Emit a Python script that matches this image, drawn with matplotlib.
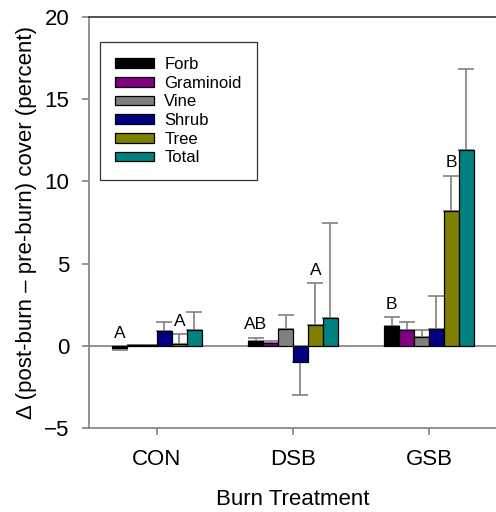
import numpy as np
import matplotlib.pyplot as plt

plt.rcParams['font.family'] = ['Liberation Sans', 'DejaVu Sans']

treatments = ['CON', 'DSB', 'GSB']
groups = ['Forb', 'Graminoid', 'Vine', 'Shrub', 'Tree', 'Total']
colors = ['#000000', '#800080', '#808080', '#000080', '#808000', '#008080']

# mean change per group, one list per treatment
con_vals = [-0.15, 0.03, 0.04, 0.92, 0.12, 0.98]
dsb_vals = [0.30, 0.15, 1.00, -1.00, 1.25, 1.72]
gsb_vals = [1.20, 0.95, 0.52, 1.00, 8.20, 11.90]

# standard errors (drawn one-sided, away from zero)
con_err = [0.10, 0.03, 0.03, 0.50, 0.60, 1.05]
dsb_err = [0.20, 0.15, 0.90, 2.00, 2.55, 5.75]
gsb_err = [0.55, 0.50, 0.46, 2.00, 2.15, 4.95]

# significance letters: (treatment index, group index, letter)
letters = [(0, 0, 'A'), (0, 4, 'A'), (1, 0, 'AB'), (1, 4, 'A'),
           (2, 0, 'B'), (2, 4, 'B')]

vals = np.array([con_vals, dsb_vals, gsb_vals])
errs = np.array([con_err, dsb_err, gsb_err])

fig = plt.figure(figsize=(4.96, 5.12), dpi=100)
ax = fig.add_axes([89 / 496, 84 / 512, 408 / 496, 411 / 512])

x = np.arange(1, len(treatments) + 1)
w = 0.11
for j, g in enumerate(groups):
    xs = x + (j - 2.5) * w
    v = vals[:, j]
    e = errs[:, j]
    ax.bar(xs, v, width=w, color=colors[j], edgecolor='black',
           linewidth=0.9, label=g, zorder=3)
    lower = np.where(v < 0, e, 0)
    upper = np.where(v >= 0, e, 0)
    eb = ax.errorbar(xs, v, yerr=[lower, upper], fmt='none', ecolor='#808080',
                     elinewidth=1.2, capsize=5.5, capthick=1.2, zorder=2)
    for cl in eb[1]:
        cl.set_color('#222222')

for ti, gi, lab in letters:
    v = vals[ti, gi]
    top = max(v + errs[ti, gi], 0)
    ax.text(x[ti] + (gi - 2.5) * w, top + 0.5, lab, ha='center',
            va='baseline', fontsize=12.5)

ax.axhline(0, color='#808080', linewidth=1.2, zorder=1)
ax.set_xlim(0.5, 3.5)
ax.set_ylim(-5, 20)
ax.set_yticks([-5, 0, 5, 10, 15, 20])
ax.set_yticklabels(['\u22125', '0', '5', '10', '15', '20'])
ax.set_xticks(x)
ax.set_xticklabels(treatments)
ax.tick_params(axis='both', labelsize=16, color='#808080', length=5, width=1.2)
ax.tick_params(axis='y', pad=9)
ax.tick_params(axis='x', pad=10)

for side in ['left', 'bottom', 'right']:
    ax.spines[side].set_color('#808080')
    ax.spines[side].set_linewidth(1.2)
ax.spines['top'].set_color('#333333')
ax.spines['top'].set_linewidth(1.2)

ax.set_xlabel('Burn Treatment', fontsize=16, labelpad=14)
ax.set_ylabel('\u0394 (post-burn \u2013 pre-burn) cover (percent)', fontsize=16,
              labelpad=5)

leg = ax.legend(loc='upper left', bbox_to_anchor=(0.027, 0.939),
                borderaxespad=0, fontsize=12, frameon=True, fancybox=False,
                edgecolor='black', handlelength=2.35, handleheight=0.5,
                handletextpad=0.6, labelspacing=0.22, borderpad=0.9)
leg.get_frame().set_linewidth(0.9)
for p in leg.get_patches():
    p.set_linewidth(0.9)

fig.savefig('out.png', dpi=100)
